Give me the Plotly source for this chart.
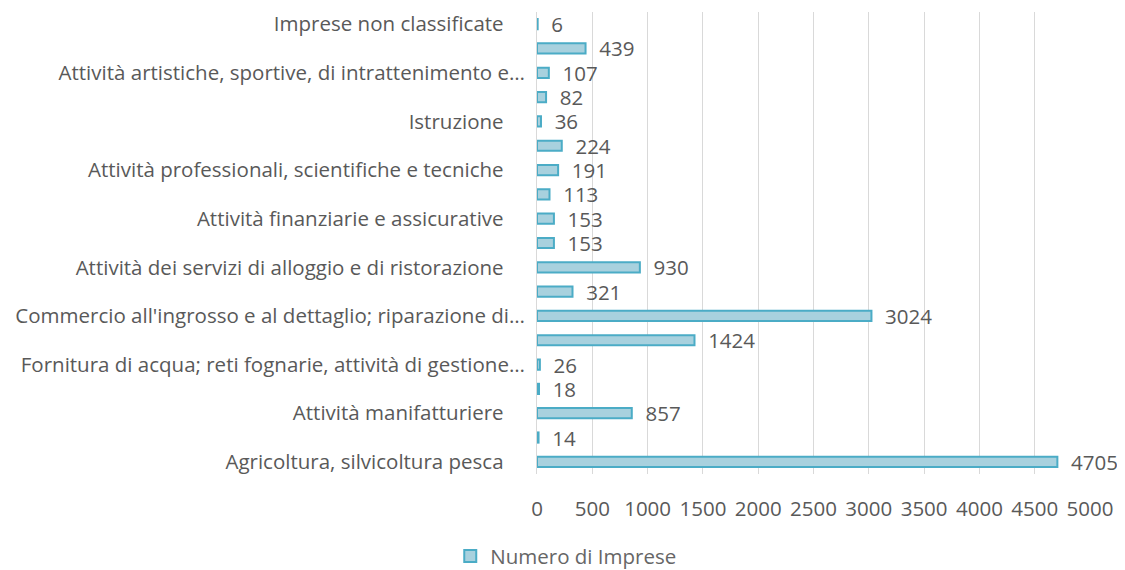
import plotly.graph_objects as go

categories = [
    "Agricoltura, silvicoltura pesca",
    "Estrazione di minerali da cave e miniere",
    "Attività manifatturiere",
    "Fornitura di energia elettrica, gas, vapore e aria condizionata",
    "Fornitura di acqua; reti fognarie, attività di gestione…",
    "Costruzioni",
    "Commercio all'ingrosso e al dettaglio; riparazione di…",
    "Trasporto e magazzinaggio",
    "Attività dei servizi di alloggio e di ristorazione",
    "Servizi di informazione e comunicazione",
    "Attività finanziarie e assicurative",
    "Attività immobiliari",
    "Attività professionali, scientifiche e tecniche",
    "Noleggio, agenzie di viaggio, servizi di supporto alle imprese",
    "Istruzione",
    "Sanità e assistenza sociale",
    "Attività artistiche, sportive, di intrattenimento e…",
    "Altre attività di servizi",
    "Imprese non classificate",
]
values = [4705, 14, 857, 18, 26, 1424, 3024, 321, 930, 153, 153, 113, 191, 224, 36, 82, 107, 439, 6]
shown_labels = categories[::2]
x_ticks = [0, 500, 1000, 1500, 2000, 2500, 3000, 3500, 4000, 4500, 5000]

FONT = "Open Sans"
SIZE = 20.5
GRAY = "#595959"
NB = "\u00a0"

tick_text = [l if l.endswith("…") else l + NB * 4 for l in shown_labels]

fig = go.Figure()
fig.add_trace(go.Bar(
    y=categories, x=values, orientation="h",
    name="Numero di Imprese",
    marker=dict(color="#a8d1de", line=dict(color="#4bacc6", width=2)),
    width=0.42,
    text=[NB * 2 + str(v) for v in values], textposition="outside",
    constraintext="none",
    textfont=dict(family=FONT, size=SIZE, color=GRAY),
    cliponaxis=False,
))
fig.update_layout(
    width=1125, height=570,
    margin=dict(l=529, r=43, t=4, b=104, autoexpand=False),
    plot_bgcolor="white", paper_bgcolor="white",
    font=dict(family=FONT, size=SIZE, color=GRAY),
    showlegend=True,
    legend=dict(orientation="h", x=0.052, xref="paper", xanchor="center", y=-0.178, yanchor="middle",
                font=dict(family=FONT, size=SIZE, color="#666666")),
    xaxis=dict(range=[0, 5000], tickvals=x_ticks, showgrid=True, gridcolor="#d9d9d9", gridwidth=1,
               zeroline=False, ticks="", tickfont=dict(family=FONT, size=SIZE, color=GRAY),
               ticklabelstandoff=20, automargin=False),
    yaxis=dict(type="category", categoryorder="array", categoryarray=categories,
               tickvals=shown_labels, ticktext=tick_text, showgrid=False,
               showline=True, linecolor="#d9d9d9", linewidth=1, ticks="",
               tickfont=dict(family=FONT, size=SIZE, color=GRAY), ticklabelstandoff=7,
               automargin=False),
    bargap=0.5,
)
fig.write_html("out.html")
